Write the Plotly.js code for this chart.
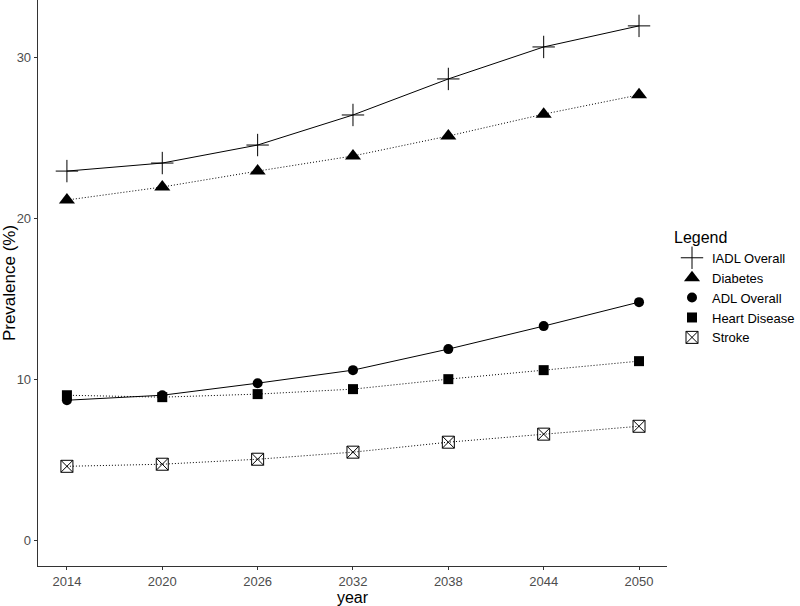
<!DOCTYPE html>
<html><head><meta charset="utf-8">
<script src="https://cdn.plot.ly/plotly-3.0.1.min.js"></script>
<style>body{margin:0;background:#fff}#c{width:800px;height:606px}</style>
</head><body><div id="c"></div>
<script>
const years = [2014, 2020, 2026, 2032, 2038, 2044, 2050];
const iadl = [22.96, 23.46, 24.58, 26.45, 28.69, 30.68, 31.99];
const diabetes = [21.16, 21.97, 22.96, 23.9, 25.14, 26.5, 27.7];
const adl = [8.71, 9.02, 9.77, 10.58, 11.89, 13.32, 14.81];
const heart = [9.02, 8.9, 9.09, 9.4, 10.02, 10.58, 11.14];
const stroke = [4.6, 4.73, 5.04, 5.48, 6.1, 6.6, 7.09];
const yTicks = [0, 10, 20, 30];

const series = [
  {name: 'IADL Overall', y: iadl, dash: 'solid', sym: 'cross-thin-open', size: 16, lw: 1},
  {name: 'Diabetes', y: diabetes, dash: '1px,2px', sym: 'triangle-up', size: 14, lw: 0},
  {name: 'ADL Overall', y: adl, dash: 'solid', sym: 'circle', size: 10, lw: 0},
  {name: 'Heart Disease', y: heart, dash: '1px,2px', sym: 'square', size: 10, lw: 0},
  {name: 'Stroke', y: stroke, dash: '1px,2px', sym: 'square-x-open', size: 12, lw: 1}
];
const data = [];
series.forEach(s => {
  data.push({x: years, y: s.y, name: s.name, type: 'scatter', mode: 'lines', showlegend: false,
    line: {color: '#000', width: 1, dash: s.dash}});
});
series.forEach(s => {
  data.push({x: years, y: s.y, name: s.name, type: 'scatter', mode: 'markers', showlegend: true,
    marker: {symbol: s.sym, size: s.size, color: '#000', line: {color: '#000', width: s.lw}}});
});
const layout = {
  width: 800, height: 606,
  margin: {l: 38, r: 132, t: 0, b: 40},
  paper_bgcolor: '#fff', plot_bgcolor: '#fff',
  font: {family: 'Liberation Sans, Arial, sans-serif', color: '#4d4d4d', size: 13},
  showlegend: true,
  legend: {x: 1.008, xanchor: 'left', y: 0.492, yanchor: 'middle', traceorder: 'normal',
    title: {text: 'Legend', font: {size: 16, color: '#000'}},
    font: {size: 13, color: '#000'}, tracegroupgap: 0},
  xaxis: {range: [2012.18, 2051.76], tickvals: years, ticktext: years.map(String),
    showgrid: false, zeroline: false, showline: true, linecolor: '#333', linewidth: 1.3,
    ticks: 'outside', ticklen: 3, tickcolor: '#333', tickfont: {size: 13, color: '#4d4d4d'},
    title: {text: 'year', font: {size: 16, color: '#000'}, standoff: 5}},
  yaxis: {range: [-1.6, 33.6], tickvals: yTicks,
    showgrid: false, zeroline: false, showline: true, linecolor: '#333', linewidth: 1.3,
    ticks: 'outside', ticklen: 3, tickcolor: '#333', tickfont: {size: 13, color: '#4d4d4d'},
    title: {text: 'Prevalence (%)', font: {size: 17, color: '#000'}, standoff: 4}}
};
Plotly.newPlot('c', data, layout, {displayModeBar: false, staticPlot: true});
</script></body></html>
